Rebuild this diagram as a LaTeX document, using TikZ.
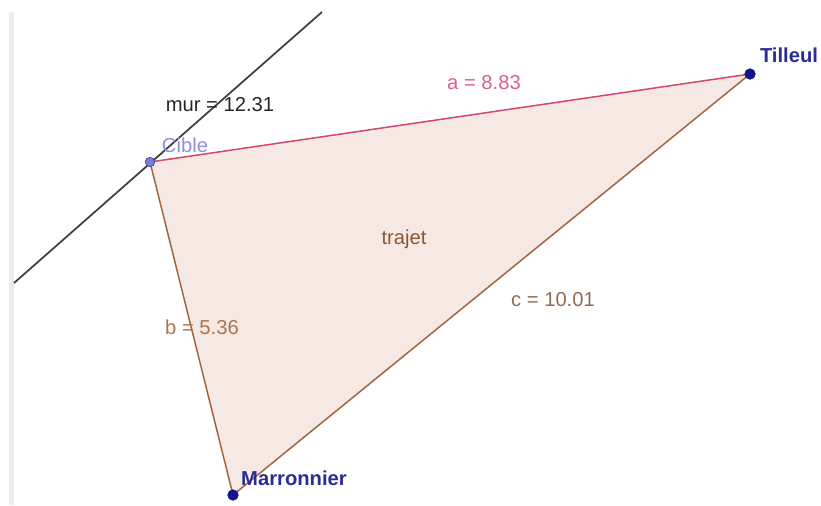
\documentclass[tikz,border=0pt]{standalone}
\usepackage{fontspec}
\setmainfont{Liberation Sans}
\usepackage{xcolor}
\usetikzlibrary{positioning}

\definecolor{rosea}{HTML}{D4466E}
\definecolor{brun}{HTML}{A2663E}
\definecolor{fond}{HTML}{F6E8E3}
\definecolor{bleu}{HTML}{14148A}
\definecolor{lavande}{HTML}{7C7CD8}

\begin{document}
\begin{tikzpicture}[x=0.02cm,y=-0.02cm,
  lbl/.style={inner sep=0pt,font=\fontsize{11.5}{13}\selectfont},
  pl/.style={lbl,font=\fontsize{11.5}{13}\selectfont\bfseries,text=bleu!90!white},
  dot/.style={circle,draw=bleu,fill=bleu,inner sep=0pt,minimum size=0.21cm},
  e/.style={line width=0.85pt}]
\useasboundingbox (0,0) rectangle (821,505);
% bande grise a gauche
\fill[black!7] (9,12) rectangle (14,505);
\coordinate (C) at (150,162);
\coordinate (T) at (750,74);
\coordinate (M) at (233,495);
\coordinate (m1) at (14,283);
\coordinate (m2) at (322,12);
% polygone trajet
\fill[fond] (C) -- (T) -- (M) -- cycle;
\draw[e,rosea] (C) -- (T);
\draw[e,brun] (C) -- (M);
\draw[e,brun] (M) -- (T);
\draw[line width=1pt,black!75] (m1) -- (m2);
% points
\node[dot,draw=bleu!80,fill=lavande,minimum size=0.19cm] (cible) at (C) {};
\node[dot] (tilleul) at (T) {};
\node[dot] (marr) at (M) {};
% etiquettes
\node[lbl,text=black!85] (mur) at (220,105) {mur = 12.31};
\node[lbl,text=lavande!85!white] (lc) at (185,145) {Cible};
\node[pl] (lt) at (789,55) {Tilleul};
\node[pl] (lm) at (294,478) {Marronnier};
\node[lbl,text=rosea!85!white] (la) at (484,83) {a = 8.83};
\node[lbl,text=brun!90!white] (lb) at (202,327) {b = 5.36};
\node[lbl,text=brun!70!black!80] (lcc) at (553,300) {c = 10.01};
\node[lbl,text=brun!85!black] (tr) at (404,239) {trajet};
\end{tikzpicture}
\end{document}
